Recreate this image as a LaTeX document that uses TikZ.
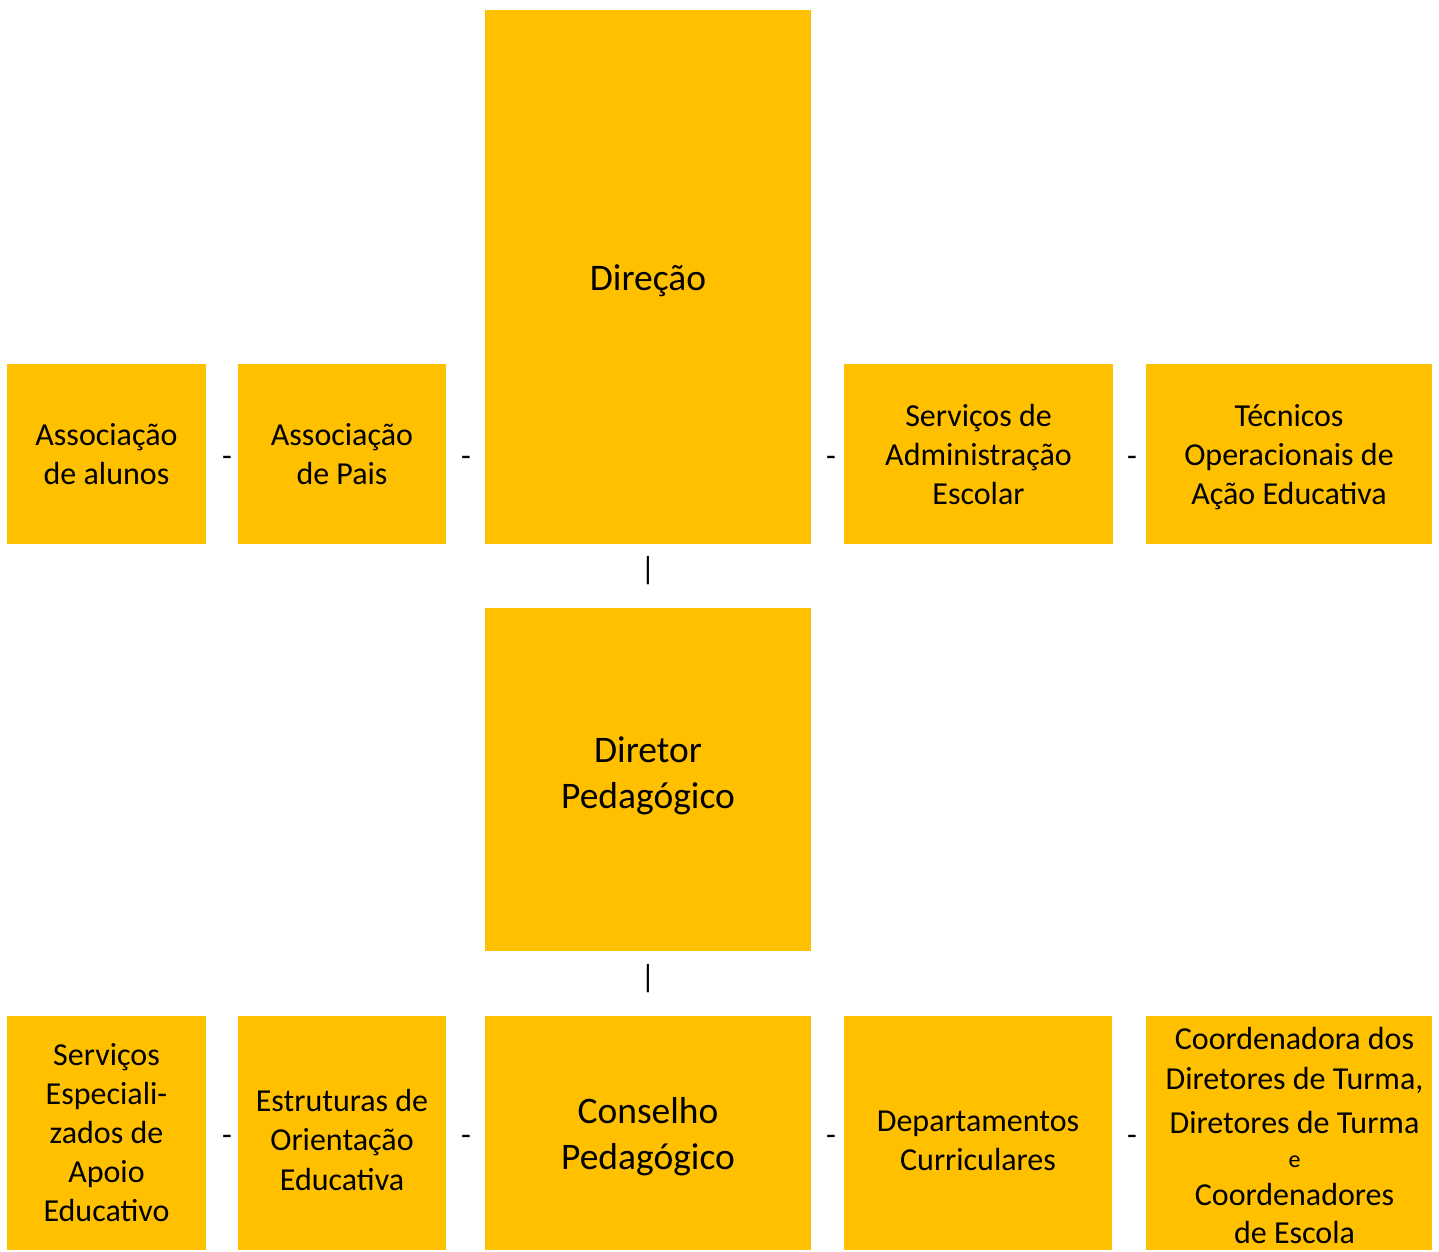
\documentclass[tikz,border=0pt]{standalone}
\usepackage{fontspec}
\setmainfont{Carlito}
\usetikzlibrary{calc}
\definecolor{gold}{HTML}{FFC000}
\begin{document}
\begin{tikzpicture}[x=1pt,y=-1pt,
  box/.style={fill=gold, draw=none, inner sep=0pt, align=center, font=\fontsize{32}{39}\selectfont},
  big/.style={font=\fontsize{37.5}{46}\selectfont},
  sepmark/.style={inner sep=0pt, font=\fontsize{32}{39}\selectfont, yshift=-7pt},
  vmark/.style={inner sep=0pt, font=\fontsize{32}{39}\selectfont, yshift=5pt},
  line/.style={inner sep=0pt, anchor=base, font=\fontsize{32}{39}\selectfont},
  small/.style={inner sep=0pt, anchor=base, font=\fontsize{24}{28}\selectfont}]
\useasboundingbox (0,0) rectangle (1439,1251);
% top row
\node[box, minimum width=326pt, minimum height=534pt] (dir) at (648,277) {};
\node[line, big] (dirt) at (648,290) {Direção};
\node[box, minimum width=199pt, minimum height=180pt] (aa) at (106.5,454) {Associação\\de alunos};
\node[box, minimum width=208pt, minimum height=180pt] (ap) at (342,454) {Associação\\de Pais};
\node[box, minimum width=269pt, minimum height=180pt] (sae) at (978.5,454) {Serviços de\\Administração\\Escolar};
\node[box, minimum width=286pt, minimum height=180pt] (toe) at (1289,454) {};
\node[line] (toe1) at (1289,426) {Técnicos};
\node[line] (toe2) at (1289,465) {Operacionais de};
\node[line] (toe3) at (1289,504) {Ação Educativa};
% middle
\node[box, minimum width=326pt, minimum height=343pt] (dp) at (648,779.5) {};
\node[line, big] (dpt1) at (648,762) {Diretor};
\node[line, big] (dpt2) at (648,808) {Pedagógico};
% bottom row
\node[box, minimum width=326pt, minimum height=234pt] (cp) at (648,1133) {};
\node[line, big] (cpt1) at (648,1123) {Conselho};
\node[line, big] (cpt2) at (648,1169) {Pedagógico};
\node[box, minimum width=199pt, minimum height=234pt] (sea) at (106.5,1133) {Serviços\\Especiali-\\zados de\\Apoio\\Educativo};
\node[box, minimum width=208pt, minimum height=234pt] (eoe) at (342,1133) {};
\node[line] (eot1) at (342,1111) {Estruturas de};
\node[line] (eot2) at (342,1150) {Orientação};
\node[line] (eot3) at (342,1190) {Educativa};
\node[box, minimum width=268pt, minimum height=234pt] (dc) at (978,1133) {};
\node[line] (dct1) at (978,1131) {Departamentos};
\node[line] (dct2) at (978,1170) {Curriculares};
\node[box, minimum width=286pt, minimum height=234pt] (cdt) at (1289,1133) {};
\node[line] (c1) at (1294.5,1049) {Coordenadora dos};
\node[line] (c2) at (1294.5,1089) {Diretores de Turma,};
\node[line] (c3) at (1294.5,1133) {Diretores de Turma};
\node[small] (c4) at (1294.5,1167) {e};
\node[line] (c5) at (1294.5,1205) {Coordenadores};
\node[line] (c6) at (1294.5,1243) {de Escola};
% separators
\node[sepmark, xshift=5pt] (s1) at ($(aa.east)!0.5!(ap.west)$) {-};
\node[sepmark, xshift=0.5pt] (s2) at ($(ap.east)!0.5!(dir.west|-ap.east)$) {-};
\node[sepmark, xshift=3.5pt] (s3) at ($(dir.east|-sae.west)!0.5!(sae.west)$) {-};
\node[sepmark, xshift=2.5pt] (s4) at ($(sae.east)!0.5!(toe.west)$) {-};
\node[sepmark, xshift=5pt] (s5) at ($(sea.east)!0.5!(eoe.west)$) {-};
\node[sepmark, xshift=0.5pt] (s6) at ($(eoe.east)!0.5!(cp.west)$) {-};
\node[sepmark, xshift=3.5pt] (s7) at ($(cp.east)!0.5!(dc.west)$) {-};
\node[sepmark, xshift=3pt] (s8) at ($(dc.east)!0.5!(cdt.west)$) {-};
\node[vmark] (v1) at ($(dir.south)!0.5!(dp.north)$) {|};
\node[vmark] (v2) at ($(dp.south)!0.5!(cp.north)$) {|};
\end{tikzpicture}
\end{document}
